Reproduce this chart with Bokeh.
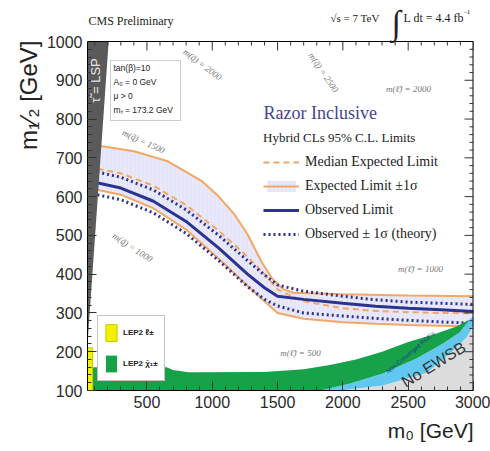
import math
from bokeh.plotting import figure
from bokeh.models import (Range1d, SingleIntervalTicker, Label, BoxAnnotation, Span,
                          Legend, LegendItem, Title)
from bokeh.embed import file_html
from bokeh.resources import INLINE

# ---------------- data ----------------
obs_m0 = [45, 100, 300, 550, 800, 1050, 1270, 1400, 1500, 1700, 2000, 2250, 2500, 2750, 3000]
obs_m12 = [640, 637, 622, 588, 536, 467, 400, 365, 343, 335, 325, 317, 312, 308, 304]
obs_up_m12 = [668, 665, 650, 617, 566, 500, 435, 398, 372, 356, 343, 334, 328, 325, 322]
obs_dn_m12 = [608, 606, 592, 558, 505, 435, 368, 335, 318, 300, 292, 286, 281, 277, 273]
exp_med_m12 = [676, 673, 660, 628, 578, 512, 445, 400, 360, 330, 312, 305, 302, 300, 299]
exp_dn_m12 = [622, 619, 605, 570, 515, 440, 370, 330, 300, 285, 276, 272, 269, 267, 265]

exp_up_m0 = [45, 120, 400, 660, 920, 1050, 1170, 1270, 1380, 1460, 1540, 1620, 2000, 2500, 3000]
exp_up_m12 = [735, 732, 717, 691, 640, 600, 554, 503, 430, 388, 362, 352, 348, 345, 343]

lsp_m0 = [45, 207, 45]
lsp_m12 = [1000, 1000, 220]

lep_slep_m0 = [45, 84, 84, 45]
lep_slep_m12 = [100, 100, 210, 210]

green_top_m0 = [84, 650, 700, 820, 1400, 1700, 1900, 2100, 2300, 2500, 2700, 2870, 2970]
green_top_m12 = [160, 160, 153, 147, 148, 155, 166, 180, 200, 225, 245, 265, 283]
green_bot_m0 = [2896, 2766, 2567, 2307, 2056, 1827, 84]
green_bot_m12 = [250, 221, 183, 144, 118, 100, 100]

cyan_top_m0 = [1827, 2056, 2307, 2567, 2766, 2896, 2970, 3000]
cyan_top_m12 = [100, 118, 144, 183, 221, 250, 283, 292]
noewsb_m0 = [1980, 2307, 2643, 2819, 2948, 3000]
noewsb_m12 = [100, 113, 146, 195, 237, 268]

x_major = [500, 1000, 1500, 2000, 2500, 3000]
x_minor = [v for v in range(100, 3000, 100) if v % 500]
y_major = [200, 300, 400, 500, 600, 700, 800, 900]
y_minor = [v for v in range(120, 1000, 20) if v % 100]

# ---------------- helpers for placing annotations (pixel -> data) ----------------
X0, X1, Y0, Y1 = 45, 3000, 100, 1000
FL, FR, FT, FB = 87, 473, 41, 390
YTOP = Y0 + FB * (Y1 - Y0) / (FB - FT)   # frame extended up to the top of the canvas (header area)
PXY = (Y1 - Y0) / (FB - FT)   # data units per pixel, vertical
PXX = (X1 - X0) / (FR - FL)   # data units per pixel, horizontal


def X(px):
    return X0 + (px - FL) * PXX


def Y(py):
    return Y0 + (FB - py) * PXY


p = figure(width=490, height=451, x_range=Range1d(X0, X1), y_range=Range1d(Y0, YTOP),
           output_backend="svg", toolbar_location=None,
           min_border_left=FL, min_border_right=490 - FR, min_border_top=0,
           min_border_bottom=451 - FB)
p.background_fill_color = "white"
p.border_fill_color = "white"
p.grid.visible = False
p.outline_line_color = None

ORANGE = "#f4a664"
BLUE = "#2b3391"

# expected band
band_x = exp_up_m0 + obs_m0[::-1]
band_y = exp_up_m12 + exp_dn_m12[::-1]
band = p.patch(band_x, band_y, fill_color="#e9e9fb", line_alpha=0,
               hatch_pattern="vertical_line", hatch_color="#dadaf4", hatch_scale=4, hatch_weight=0.6)
l_up = p.line(exp_up_m0, exp_up_m12, line_color=ORANGE, line_width=2)
p.line(obs_m0, exp_dn_m12, line_color=ORANGE, line_width=2)
l_med = p.line(obs_m0, exp_med_m12, line_color=ORANGE, line_width=2, line_dash="6 4")
l_obs_up = p.line(obs_m0, obs_up_m12, line_color=BLUE, line_width=3, line_dash="2 3")
p.line(obs_m0, obs_dn_m12, line_color=BLUE, line_width=3, line_dash="2 3")
l_obs = p.line(obs_m0, obs_m12, line_color=BLUE, line_width=3)

# excluded regions
p.patch(noewsb_m0 + [3000], noewsb_m12 + [100], fill_color="#dcdcdc", line_alpha=0)
p.patch(cyan_top_m0 + noewsb_m0[::-1], cyan_top_m12 + noewsb_m12[::-1], fill_color="#62c8ef", line_alpha=0)
green = p.patch(green_top_m0 + green_bot_m0, green_top_m12 + green_bot_m12, fill_color="#17a24a", line_alpha=0)
yellow = p.patch(lep_slep_m0, lep_slep_m12, fill_color="#f2f200", line_color="#c8c800", line_width=1)
p.patch(lsp_m0, lsp_m12, fill_color="#5a5a5a", line_alpha=0)

# ---------------- axes ----------------
p.xaxis.ticker = SingleIntervalTicker(interval=500, num_minor_ticks=5)
p.yaxis.ticker = SingleIntervalTicker(interval=100, num_minor_ticks=5)
p.yaxis.bounds = (Y0, Y1)

for ax in p.axis:
    ax.major_tick_in = 9
    ax.major_tick_out = 0
    ax.minor_tick_in = 4
    ax.minor_tick_out = 0
    ax.axis_line_color = "black"
    ax.major_tick_line_color = "#333333"
    ax.minor_tick_line_color = "#333333"
    ax.major_label_text_font = "Liberation Sans"
    ax.major_label_text_font_size = "16px"
    ax.major_label_text_color = "#2a2a2a"
    ax.major_label_standoff = 5

# top and right edges of the plot box with their ticks
TK = "#333333"
p.add_layout(Span(location=Y1, dimension="width", line_color="black", line_width=1))
p.segment(x0=x_major, y0=[Y1] * len(x_major), x1=x_major, y1=[Y1 - 9 * PXY] * len(x_major),
          line_color=TK, line_width=1)
p.segment(x0=x_minor, y0=[Y1] * len(x_minor), x1=x_minor, y1=[Y1 - 4 * PXY] * len(x_minor),
          line_color=TK, line_width=1)
p.segment(x0=[X1], y0=[Y0], x1=[X1], y1=[Y1], line_color="black", line_width=2)
p.segment(x0=[X1] * len(y_major), y0=y_major, x1=[X1 - 9 * PXX] * len(y_major), y1=y_major,
          line_color=TK, line_width=1)
p.segment(x0=[X1] * len(y_minor), y0=y_minor, x1=[X1 - 4 * PXX] * len(y_minor), y1=y_minor,
          line_color=TK, line_width=1)

# axis titles
p.add_layout(Title(text="m\u2080 [GeV]", align="right", text_font="Liberation Sans",
                   text_font_size="21px", text_font_style="normal", text_color="#222222",
                   standoff=12), "below")
p.add_layout(Title(text="m\u2081\u2044\u2082 [GeV]", align="right", offset=40, text_font="Liberation Sans",
                   text_font_size="24px", text_font_style="normal", text_color="#222222",
                   standoff=4), "left")

# ---------------- legends ----------------
items = [
    LegendItem(label="Median Expected Limit", renderers=[l_med]),
    LegendItem(label="Expected Limit \u00b11\u03c3", renderers=[band, l_up]),
    LegendItem(label="Observed Limit", renderers=[l_obs]),
    LegendItem(label="Observed \u00b1 1\u03c3 (theory)", renderers=[l_obs_up]),
]
leg = Legend(items=items, location=(176, 148), title="Hybrid CLs 95% C.L. Limits",
             glyph_width=36, glyph_height=14, label_standoff=6, spacing=8, padding=0, margin=0,
             background_fill_alpha=0, border_line_alpha=0,
             label_text_font="Liberation Serif", label_text_font_size="14px", label_text_color="#222222",
             title_text_font="Liberation Serif", title_text_font_size="13px", title_text_font_style="normal",
             title_text_color="#222222", title_standoff=8)
p.add_layout(leg)

leg2 = Legend(items=[LegendItem(label="LEP2 \u2113\u0303\u00b1", renderers=[yellow]),
                     LegendItem(label="LEP2 \u03c7\u0303\u2081\u00b1", renderers=[green])],
              location=(10, 9), glyph_width=14, glyph_height=21, label_standoff=5, spacing=10,
              padding=6, margin=0, background_fill_color="white", background_fill_alpha=1,
              border_line_color="#888888", border_line_width=1,
              label_text_font="Liberation Sans", label_text_font_size="8px", label_text_font_style="bold",
              label_text_color="#222222")
p.add_layout(leg2)

# ---------------- labels ----------------
def lab(px, py, text, size, font="Liberation Sans", color="#222222", align="left", baseline="middle",
        angle=0.0, style="normal"):
    p.add_layout(Label(x=X(px), y=Y(py), text=text, text_font=font, text_font_size=f"{size}px",
                       text_color=color, text_align=align, text_baseline=baseline, angle=angle,
                       text_font_style=style))


lab(263, 112, "Razor Inclusive", 18, font="Liberation Serif", color="#45458f")

# info box
p.add_layout(BoxAnnotation(left=X(110), right=X(180), top=Y(60), bottom=Y(120),
                           fill_color="white", fill_alpha=1, line_color="#555555", line_width=1))
lab(113, 67, "tan(\u03b2)=10", 8.5)
lab(113, 81, "A\u2080 = 0 GeV", 8.5)
lab(113, 95, "\u03bc > 0", 8.5)
lab(113, 109, "m\u209c = 173.2 GeV", 8.5)

# LSP text
lab(95, 80, "\u03c4\u0303 = LSP", 13, color="#e8e8e8", align="center", angle=math.pi / 2)

# iso-mass contours labels
GR = "#777777"
lab(202, 64, "m(q\u0303) = 2000", 9, font="Liberation Serif", color=GR, align="center", angle=-0.65, style="italic")
lab(323, 72, "m(q\u0303) = 2500", 9, font="Liberation Serif", color=GR, align="center", angle=-0.98, style="italic")
lab(408, 88, "m(\u2113\u0303) = 2000", 9, font="Liberation Serif", color=GR, align="center", style="italic")
lab(143, 141, "m(q\u0303) = 1500", 9, font="Liberation Serif", color=GR, align="center", angle=-0.43, style="italic")
lab(132, 247, "m(q\u0303) = 1000", 9, font="Liberation Serif", color=GR, align="center", angle=-0.58, style="italic")
lab(420, 268, "m(\u2113\u0303) = 1000", 9, font="Liberation Serif", color=GR, align="center", style="italic")
lab(300, 352, "m(\u2113\u0303) = 500", 9, font="Liberation Serif", color=GR, align="center", style="italic")

# excluded region texts
lab(433, 364, "No EWSB", 16, color="#333333", align="center", angle=0.55)
lab(410, 352, "Non-Converged RGE's", 6, color="#1a3a8a", align="center", angle=0.7)

# header (inside the extended frame, above the plot box)
lab(88, 20, "CMS Preliminary", 12, font="Liberation Serif")
lab(330, 17, "\u221as = 7 TeV", 11, font="Liberation Serif")
lab(391, 22, "\u222b", 34, font="Liberation Serif")
lab(403, 17, "L dt = 4.4 fb", 12, font="Liberation Serif")
lab(464, 11, "-1", 7, font="Liberation Serif")

open("out.html", "w").write(file_html(p, INLINE))
